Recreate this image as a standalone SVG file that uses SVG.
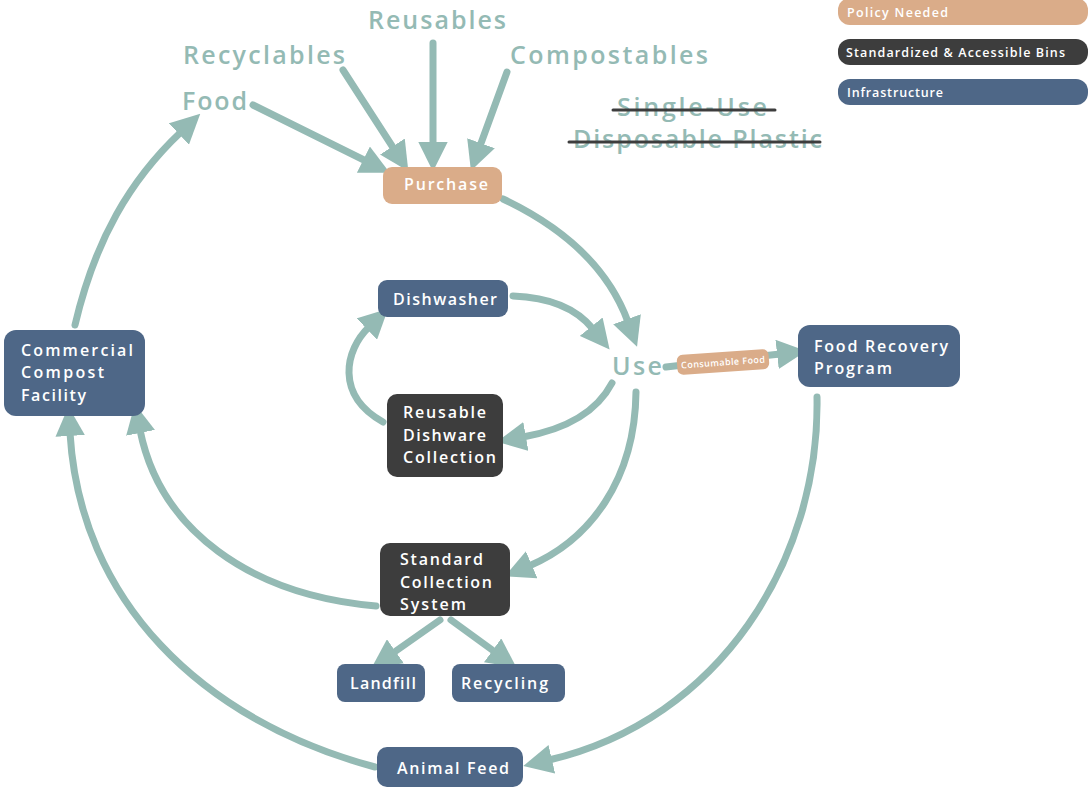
<svg xmlns="http://www.w3.org/2000/svg" width="1089" height="788" viewBox="0 0 1089 788">
<style>
text{font-variant-ligatures:none}
.c{fill:none;stroke:#94BAB4;stroke-width:7;stroke-linecap:round;marker-end:url(#ah)}
.t{font-family:"Open Sans",Lato,sans-serif;font-weight:600;fill:#fff;font-size:16px}
.tl{font-family:"Open Sans",Lato,sans-serif;font-weight:600;fill:#94BAB4;font-size:25px}
.lg{font-family:"Open Sans",Lato,sans-serif;font-weight:600;fill:#fff;font-size:12.5px}
.or{fill:#DAAC89}.dk{fill:#3D3D3D}.bl{fill:#4E6787}
.st{stroke:#3D3D3D;stroke-width:3;stroke-linecap:round}
</style>
<defs>
<marker id="ah" viewBox="0 0 10 10" markerWidth="4.2" markerHeight="4.2" refX="1" refY="5" orient="auto">
<path d="M0,0 L10,5 L0,10 z" fill="#94BAB4"/>
</marker>
</defs>
<g id="legend">
<rect class="or" x="838" y="-2" width="250" height="27" rx="12"/>
<text class="lg" x="847" y="17" textLength="101" lengthAdjust="spacing">Policy Needed</text>
<rect class="dk" x="838" y="39" width="250" height="26" rx="12"/>
<text class="lg" x="846" y="57" textLength="219" lengthAdjust="spacing">Standardized &amp; Accessible Bins</text>
<rect class="bl" x="838" y="79" width="250" height="26" rx="12"/>
<text class="lg" x="847" y="97" textLength="96" lengthAdjust="spacing">Infrastructure</text>
</g>
<g id="labels">
<text class="tl" x="368" y="29" textLength="138" lengthAdjust="spacing">Reusables</text>
<text class="tl" x="183" y="64" textLength="162" lengthAdjust="spacing">Recyclables</text>
<text class="tl" x="510" y="64" textLength="198" lengthAdjust="spacing">Compostables</text>
<text class="tl" x="182" y="110" textLength="65" lengthAdjust="spacing">Food</text>
<text class="tl" x="612" y="375" font-size="26" textLength="50" lengthAdjust="spacing">Use</text>
</g>
<g id="single-use">
<text class="tl" x="617" y="116" font-size="22" textLength="150" lengthAdjust="spacing">Single-Use</text>
<text class="tl" x="573" y="148" font-size="22" textLength="249" lengthAdjust="spacing">Disposable Plastic</text>
<line class="st" x1="613" y1="110" x2="775" y2="110"/>
<line class="st" x1="569" y1="142" x2="820" y2="142"/>
</g>
<g id="connectors">
<path class="c" d="M253,105 L366,161"/>
<path class="c" d="M343,70 L394,149"/>
<path class="c" d="M433,43 L433,145"/>
<path class="c" d="M507,72 L480,146"/>
<path class="c" d="M503,199 Q600,245 628,322"/>
<path class="c" d="M513,296 Q568,298 593,329"/>
<path class="c" d="M612,383 Q590,425 523,437"/>
<path class="c" d="M383,422 C335,395 345,350 369,327"/>
<path class="c" d="M636,392 C635,480 590,540 529,566"/>
<path class="c" d="M440,620 L393,653"/>
<path class="c" d="M451,620 L495,652"/>
<path class="c" d="M376,606 C250,595 160,530 140,430"/>
<path class="c" d="M375,767 C200,720 80,600 70,433"/>
<path class="c" d="M817,397 C820,560 720,720 549,760"/>
<path class="c" d="M75,325 C95,240 130,180 181,132"/>
<path class="c" d="M666,367 L780,354"/>
</g>
<g id="consumable-food" transform="translate(723,362) rotate(-4)">
<rect class="or" x="-46" y="-10" width="92" height="20" rx="6"/>
<text x="0" y="3.5" text-anchor="middle" font-family="'Open Sans',Lato,sans-serif" font-weight="600" font-size="9" fill="#fff" textLength="84" lengthAdjust="spacing">Consumable Food</text>
</g>
<g id="purchase">
<rect class="or" x="383" y="167" width="119" height="37" rx="9"/>
<text class="t" x="404" y="190" textLength="84" lengthAdjust="spacing">Purchase</text>
</g>
<g id="dishwasher">
<rect class="bl" x="378" y="280" width="130" height="37" rx="9"/>
<text class="t" x="393" y="305" textLength="104" lengthAdjust="spacing">Dishwasher</text>
</g>
<g id="reusable-dishware-collection">
<rect class="dk" x="387" y="394" width="116" height="83" rx="10"/>
<text class="t" x="403" y="418" textLength="83" lengthAdjust="spacing">Reusable</text>
<text class="t" x="403" y="441" textLength="83" lengthAdjust="spacing">Dishware</text>
<text class="t" x="403" y="463" textLength="93" lengthAdjust="spacing">Collection</text>
</g>
<g id="standard-collection-system">
<rect class="dk" x="380" y="543" width="130" height="73" rx="10"/>
<text class="t" x="400" y="565" textLength="83" lengthAdjust="spacing">Standard</text>
<text class="t" x="400" y="588" textLength="92" lengthAdjust="spacing">Collection</text>
<text class="t" x="400" y="610" textLength="66" lengthAdjust="spacing">System</text>
</g>
<g id="landfill">
<rect class="bl" x="337" y="664" width="88" height="38" rx="8"/>
<text class="t" x="350" y="689" textLength="66" lengthAdjust="spacing">Landfill</text>
</g>
<g id="recycling">
<rect class="bl" x="452" y="664" width="113" height="38" rx="8"/>
<text class="t" x="461" y="689" textLength="87" lengthAdjust="spacing">Recycling</text>
</g>
<g id="animal-feed">
<rect class="bl" x="377" y="747" width="146" height="40" rx="10"/>
<text class="t" x="397" y="774" textLength="112" lengthAdjust="spacing">Animal Feed</text>
</g>
<g id="commercial-compost-facility">
<rect class="bl" x="4" y="330" width="141" height="86" rx="12"/>
<text class="t" x="21" y="356" textLength="112" lengthAdjust="spacing">Commercial</text>
<text class="t" x="21" y="378" textLength="83" lengthAdjust="spacing">Compost</text>
<text class="t" x="21" y="401" textLength="65" lengthAdjust="spacing">Facility</text>
</g>
<g id="food-recovery-program">
<rect class="bl" x="798" y="325" width="162" height="62" rx="12"/>
<text class="t" x="814" y="352" textLength="134" lengthAdjust="spacing">Food Recovery</text>
<text class="t" x="814" y="374" textLength="78" lengthAdjust="spacing">Program</text>
</g>
</svg>
